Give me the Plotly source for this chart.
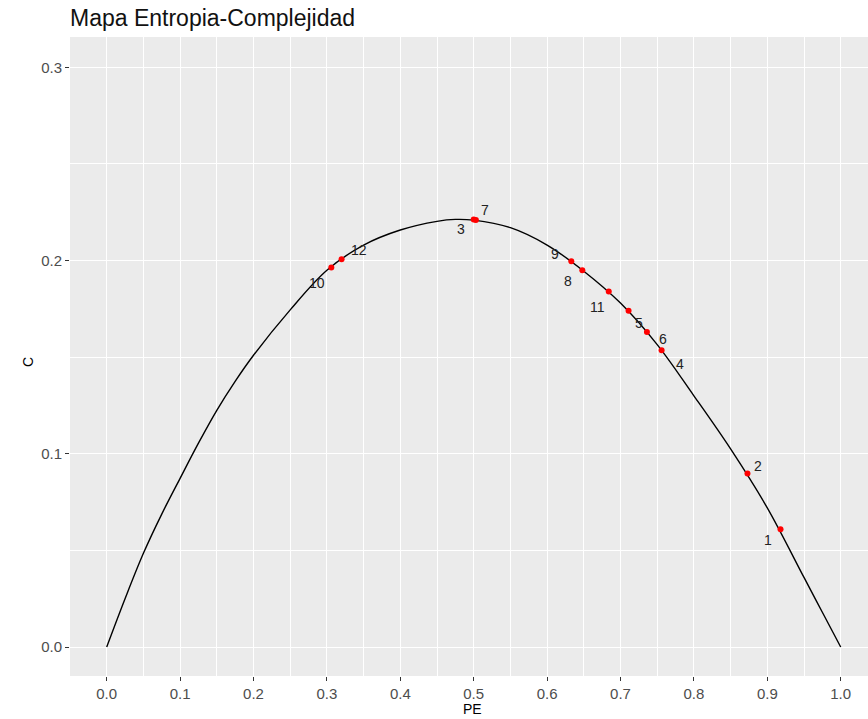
import plotly.graph_objects as go

# Curve (PE, C)
curve_pe = [0.0, 0.025, 0.05, 0.075, 0.1, 0.125, 0.15, 0.175, 0.2, 0.25, 0.3, 0.35, 0.4, 0.45,
            0.475, 0.5, 0.55, 0.6, 0.65, 0.7, 0.75, 0.8, 0.85, 0.9, 0.95, 0.975, 1.0]
curve_c = [0.0, 0.0250, 0.0485, 0.0688, 0.0873, 0.1055, 0.1225, 0.1375, 0.1510, 0.1745,
           0.1950, 0.2080, 0.2158, 0.2203, 0.2213, 0.2209, 0.2170, 0.2080, 0.1945, 0.1780,
           0.1565, 0.1300, 0.1025, 0.0720, 0.0360, 0.0180, 0.0]

# Series points
labels = ["1", "2", "3", "4", "5", "6", "7", "8", "9", "10", "11", "12"]
pe_vals = [0.918, 0.873, 0.500, 0.756, 0.711, 0.736, 0.503, 0.648, 0.633, 0.306, 0.684, 0.320]
c_vals = [0.061, 0.0898, 0.2212, 0.1536, 0.174, 0.163, 0.2210, 0.195, 0.1997, 0.1964, 0.184, 0.2007]

# Label offsets (pixels) from each point, as placed in the reference
label_dx = [-13, 11, -13, 18, 10, 16, 9, -14, -16, -14, -11, 17]
label_dy = [-11, 8, -9, -14, -12, -7, 10, -11, 7, -15, -16, 9]

x_ticks = [0.0, 0.1, 0.2, 0.3, 0.4, 0.5, 0.6, 0.7, 0.8, 0.9, 1.0]
y_ticks = [0.0, 0.1, 0.2, 0.3]

W, H = 868, 719
L, R, T, B = 70, 0, 37, 43

fig = go.Figure()
fig.add_trace(go.Scatter(x=curve_pe, y=curve_c, mode="lines",
                         line=dict(color="black", width=1.4, shape="spline", smoothing=1.0),
                         hoverinfo="skip", showlegend=False))
fig.add_trace(go.Scatter(x=pe_vals, y=c_vals, mode="markers",
                         marker=dict(color="red", size=6),
                         text=labels, showlegend=False))

font_fam = "Liberation Sans, Arial, sans-serif"
annots = []
for lab, x, y, dx, dy in zip(labels, pe_vals, c_vals, label_dx, label_dy):
    if lab == "4":
        annots.append(dict(x=x, y=y, xref="x", yref="y", text=lab, showarrow=True,
                           arrowhead=0, arrowwidth=1, arrowcolor="black",
                           ax=dx, ay=-dy, standoff=3,
                           font=dict(size=14, color="#222", family=font_fam)))
    else:
        annots.append(dict(x=x, y=y, xref="x", yref="y", text=lab, showarrow=False,
                           xshift=dx, yshift=dy,
                           font=dict(size=14, color="#222", family=font_fam)))

annots.append(dict(x=(472 - L) / (W - L - R), y=(H - B - 709) / (H - T - B),
                   xref="paper", yref="paper", text="PE", showarrow=False,
                   xanchor="center", yanchor="middle",
                   font=dict(size=14, color="black", family=font_fam)))
annots.append(dict(x=(28 - L) / (W - L - R), y=(H - B - 362) / (H - T - B),
                   xref="paper", yref="paper", text="C", showarrow=False, textangle=-90,
                   xanchor="center", yanchor="middle",
                   font=dict(size=14, color="black", family=font_fam)))

fig.update_layout(
    width=W, height=H,
    margin=dict(l=L, r=R, t=T, b=B, pad=0),
    paper_bgcolor="white", plot_bgcolor="#EBEBEB",
    title=dict(text="Mapa Entropia-Complejidad", x=L / W, xanchor="left", xref="container",
               y=1 - 18 / H, yanchor="middle", yref="container",
               font=dict(size=23, color="#111", family=font_fam)),
    annotations=annots,
    showlegend=False,
)
fig.update_xaxes(range=[-0.05, 1.0372], tickvals=x_ticks,
                 ticktext=[f"{v:.1f}" for v in x_ticks],
                 showgrid=True, gridcolor="white", gridwidth=1.2, zeroline=False,
                 ticks="outside", ticklen=4, tickcolor="#333", tickwidth=1,
                 tickfont=dict(size=15, color="#4D4D4D", family=font_fam),
                 minor=dict(tickvals=[0.05 + 0.1 * i for i in range(10)], showgrid=True,
                            gridcolor="white", gridwidth=0.6, ticks=""),
                 showline=False, automargin=False)
fig.update_yaxes(range=[-0.015, 0.3157], tickvals=y_ticks,
                 ticktext=[f"{v:.1f}" for v in y_ticks],
                 showgrid=True, gridcolor="white", gridwidth=1.2, zeroline=False,
                 ticks="outside", ticklen=4, tickcolor="#333", tickwidth=1,
                 tickfont=dict(size=15, color="#4D4D4D", family=font_fam),
                 minor=dict(tickvals=[0.05, 0.15, 0.25], showgrid=True,
                            gridcolor="white", gridwidth=0.6, ticks=""),
                 showline=False, automargin=False)

fig.write_html("out.html", config={"displayModeBar": False},
               post_script="document.body.style.margin='0';document.body.style.overflow='hidden';")
